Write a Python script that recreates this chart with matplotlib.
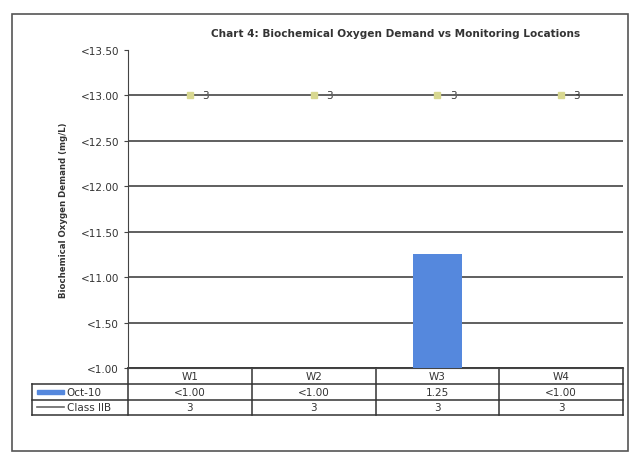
import matplotlib
matplotlib.use("Agg")
from matplotlib import pyplot as plt
from matplotlib.patches import Rectangle
from matplotlib.lines import Line2D

# data
locations = ["W1", "W2", "W3", "W4"]
oct10 = [0, 0, 1.25, 0]
oct10_text = ["<1.00", "<1.00", "1.25", "<1.00"]
class_iib = [3, 3, 3, 3]
class_iib_text = ["3", "3", "3", "3"]
ytick_vals = [0, 0.5, 1.0, 1.5, 2.0, 2.5, 3.0, 3.5]
ytick_text = ["<1.00", "<1.50", "<11.00", "<11.50", "<12.00", "<12.50", "<13.00", "<13.50"]

bar_color = "#5588dd"
line_color = "#666666"
txt = "#333333"

fig = plt.figure(figsize=(6.4, 4.64), dpi=100)
fig.patches.append(Rectangle((12/640, 1-452/464), 616/640, 437/464, transform=fig.transFigure,
                             fill=False, edgecolor="#555555", lw=1.2))

ax = fig.add_axes([128/640, 1-369/464, 495/640, 318/464])
xs = list(range(len(locations)))

ax.bar(xs, oct10, width=0.39, color=bar_color, zorder=3)
ax.plot(xs, class_iib, color=line_color, lw=1.2, marker="s", markersize=4,
        markerfacecolor="#d8d890", markeredgecolor="#d8d890", zorder=4)
for x, y, t in zip(xs, class_iib, class_iib_text):
    ax.text(x + 0.1, y, t, fontsize=7.5, color=txt, va="center", ha="left")

ax.set_xlim(-0.5, 3.5)
ax.set_ylim(0, 3.5)
ax.set_yticks(ytick_vals)
ax.set_yticklabels(ytick_text, fontsize=7.5, color=txt)
ax.set_xticks([])
ax.yaxis.grid(True, color="#444444", lw=1.2)
ax.get_ygridlines()[-1].set_visible(False)
ax.set_axisbelow(True)
for s in ["top", "right"]:
    ax.spines[s].set_visible(False)
ax.spines["left"].set_color("#444444")
ax.spines["bottom"].set_color("#444444")
ax.tick_params(axis="y", length=3, color="#444444")
ax.set_ylabel("Biochemical Oxygen Demand (mg/L)", fontsize=6.2, fontweight="bold", color=txt, labelpad=9)
ax.set_title("Chart 4: Biochemical Oxygen Demand vs Monitoring Locations", fontsize=7.6,
             fontweight="bold", color=txt, x=0.54, pad=10)

# data table below the plot
tr = ax.transAxes
h0 = 16/318
h1 = 15.5/318
left = -96/495
ncol = len(locations)
ys = [0, -h0, -h0 - h1, -h0 - 2*h1]

def hline(y, x0, x1):
    ax.add_line(Line2D([x0, x1], [y, y], transform=tr, color="#333333", lw=1.1, clip_on=False))

def vline(x, y0, y1):
    ax.add_line(Line2D([x, x], [y0, y1], transform=tr, color="#333333", lw=1.1, clip_on=False))

hline(ys[0], 0, 1)
for y in ys[1:]:
    hline(y, left, 1)
for i in range(ncol + 1):
    vline(i / ncol, ys[3], ys[0])
vline(left, ys[3], ys[1])

for i, name in enumerate(locations):
    cx = (i + 0.5) / ncol
    ax.text(cx, (ys[0] + ys[1]) / 2, name, transform=tr, ha="center", va="center", fontsize=7.5, color=txt)
    ax.text(cx, (ys[1] + ys[2]) / 2, oct10_text[i], transform=tr, ha="center", va="center", fontsize=7.5, color=txt)
    ax.text(cx, (ys[2] + ys[3]) / 2, class_iib_text[i], transform=tr, ha="center", va="center", fontsize=7.5, color=txt)

# row labels with legend keys
ym = (ys[1] + ys[2]) / 2
ax.add_patch(Rectangle((left + 0.01, ym - 0.006), 0.055, 0.012, transform=tr, color=bar_color, clip_on=False))
ax.text(left + 0.07, ym, "Oct-10", transform=tr, ha="left", va="center", fontsize=7.5, color=txt)
ym = (ys[2] + ys[3]) / 2
ax.add_line(Line2D([left + 0.01, left + 0.065], [ym, ym], transform=tr, color=line_color, lw=1.2, clip_on=False))
ax.text(left + 0.07, ym, "Class IIB", transform=tr, ha="left", va="center", fontsize=7.5, color=txt)

plt.savefig("out.png", dpi=100)
